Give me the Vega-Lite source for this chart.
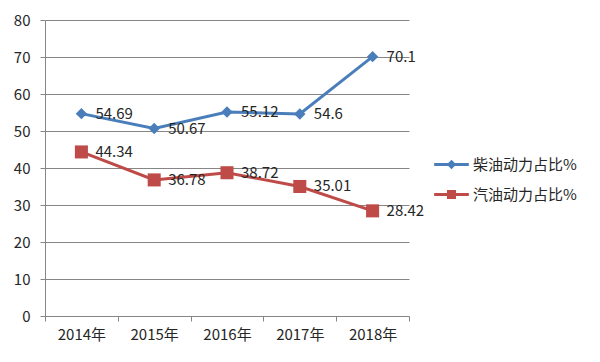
{
  "$schema": "https://vega.github.io/schema/vega-lite/v6.json",
  "width": 364,
  "height": 296,
  "autosize": "none",
  "padding": {"left": 45, "top": 20, "right": 191, "bottom": 46},
  "background": "white",
  "config": {
    "view": {"stroke": null},
    "font": "Noto Sans CJK SC"
  },
  "data": {
    "values": [
      {"year": "2014年", "series": "柴油动力占比%", "value": 54.69},
      {"year": "2015年", "series": "柴油动力占比%", "value": 50.67},
      {"year": "2016年", "series": "柴油动力占比%", "value": 55.12},
      {"year": "2017年", "series": "柴油动力占比%", "value": 54.6},
      {"year": "2018年", "series": "柴油动力占比%", "value": 70.1},
      {"year": "2014年", "series": "汽油动力占比%", "value": 44.34},
      {"year": "2015年", "series": "汽油动力占比%", "value": 36.78},
      {"year": "2016年", "series": "汽油动力占比%", "value": 38.72},
      {"year": "2017年", "series": "汽油动力占比%", "value": 35.01},
      {"year": "2018年", "series": "汽油动力占比%", "value": 28.42}
    ]
  },
  "encoding": {
    "x": {
      "field": "year",
      "type": "nominal",
      "sort": null,
      "title": null,
      "scale": {"type": "band", "paddingInner": 0, "paddingOuter": 0},
      "axis": {
        "labelAngle": 0,
        "tickBand": "extent",
        "domainColor": "#868686",
        "tickColor": "#868686",
        "tickSize": 5,
        "labelPadding": 6,
        "labelFontSize": 15,
        "labelColor": "#262626",
        "grid": false
      }
    },
    "y": {
      "field": "value",
      "type": "quantitative",
      "title": null,
      "scale": {"domain": [0, 80], "nice": false},
      "axis": {
        "values": [0, 10, 20, 30, 40, 50, 60, 70, 80],
        "gridColor": "#868686",
        "domainColor": "#868686",
        "tickColor": "#868686",
        "tickSize": 5,
        "labelPadding": 10,
        "labelFontSize": 15,
        "labelColor": "#262626"
      }
    },
    "color": {
      "field": "series",
      "type": "nominal",
      "scale": {"domain": ["柴油动力占比%", "汽油动力占比%"], "range": ["#4A7EBB", "#BE4B48"]},
      "legend": {
        "title": null,
        "orient": "none",
        "legendX": 396,
        "legendY": 134,
        "padding": 0,
        "symbolSize": 300,
        "symbolStrokeWidth": 3,
        "labelFontSize": 15,
        "labelColor": "#262626",
        "labelOffset": 11,
        "rowPadding": 10,
        "encode": {
          "symbols": {
            "update": {
              "shape": {"signal": "datum.value === '柴油动力占比%' ? 'M-2,0H2M0,-0.3L0.3,0L0,0.3L-0.3,0Z' : 'M-2,0H2M-0.35,-0.35H0.35V0.35H-0.35Z'"}
            }
          }
        }
      }
    }
  },
  "layer": [
    {"mark": {"type": "line", "strokeWidth": 3}},
    {
      "transform": [{"filter": "datum.series === '柴油动力占比%'"}],
      "mark": {"type": "point", "filled": true, "opacity": 1, "shape": "diamond", "size": 130}
    },
    {
      "transform": [{"filter": "datum.series === '汽油动力占比%'"}],
      "mark": {"type": "point", "filled": true, "opacity": 1, "shape": "square", "size": 170}
    },
    {
      "mark": {"type": "text", "align": "left", "baseline": "middle", "dx": 14, "fontSize": 15, "color": "#262626"},
      "encoding": {
        "text": {"field": "value", "type": "quantitative"},
        "color": {"value": "#262626"}
      }
    }
  ]
}
